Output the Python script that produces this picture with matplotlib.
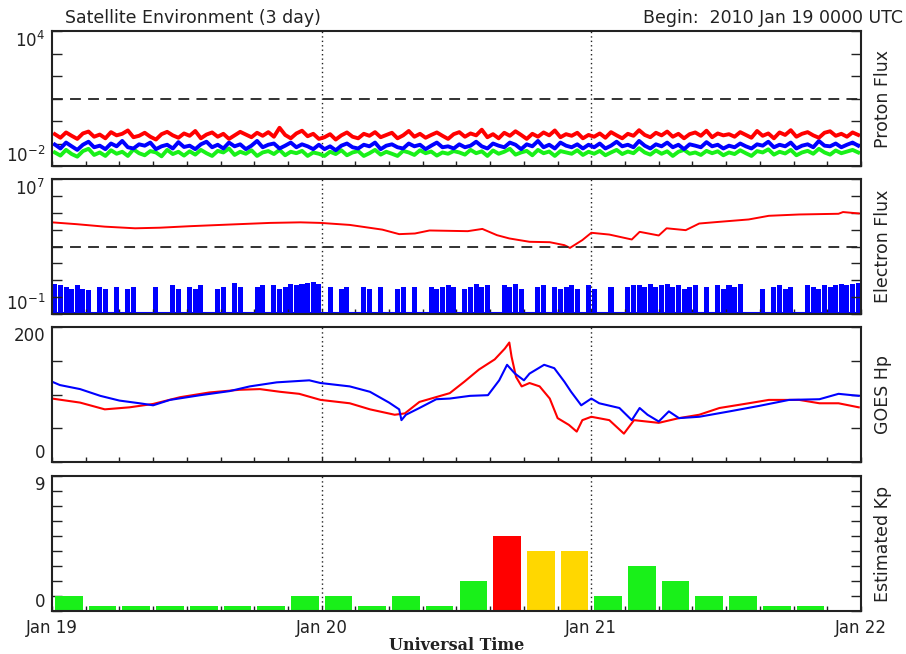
import numpy as np
import matplotlib
matplotlib.use("Agg")
import matplotlib.pyplot as plt
from matplotlib.ticker import MultipleLocator, NullLocator

RED = "#ff0000"
BLUE = "#0000ff"
GREEN = "#19f019"
YELLOW = "#ffd700"
INK = "#222222"

# proton flux (pfu), half-hour samples from 2010 Jan 19 00:00 UTC
proton_10mev = [
    0.26, 0.18, 0.31, 0.22, 0.16, 0.28, 0.34, 0.2, 0.25, 0.17, 0.32, 0.23, 0.27, 0.38, 0.19, 0.22, 0.3, 0.2, 0.15, 0.26, 0.33, 0.23, 0.18, 0.28,
    0.22, 0.36, 0.17, 0.25, 0.31, 0.2, 0.27, 0.16, 0.23, 0.33, 0.25, 0.19, 0.3, 0.22, 0.32, 0.2, 0.5, 0.24, 0.17, 0.28, 0.37, 0.21, 0.27, 0.16,
    0.19, 0.26, 0.15, 0.23, 0.31, 0.2, 0.17, 0.27, 0.22, 0.32, 0.19, 0.24, 0.3, 0.17, 0.23, 0.36, 0.2, 0.27, 0.18, 0.24, 0.31, 0.22, 0.16, 0.26,
    0.32, 0.2, 0.28, 0.23, 0.41, 0.19, 0.26, 0.17, 0.3, 0.22, 0.35, 0.24, 0.16, 0.27, 0.2, 0.31, 0.23, 0.38, 0.19, 0.26, 0.22, 0.3, 0.17, 0.24,
    0.2, 0.28, 0.18, 0.32, 0.23, 0.17, 0.27, 0.22, 0.39, 0.24, 0.19, 0.3, 0.23, 0.34, 0.2, 0.27, 0.17, 0.26, 0.31, 0.22, 0.37, 0.19, 0.28, 0.23,
    0.26, 0.2, 0.32, 0.24, 0.18, 0.36, 0.22, 0.28, 0.17, 0.31, 0.24, 0.39, 0.2, 0.27, 0.32, 0.23, 0.18, 0.3, 0.35, 0.22, 0.27, 0.2, 0.31, 0.24,
]
proton_50mev = [
    0.09, 0.06, 0.11, 0.075, 0.052, 0.088, 0.12, 0.068, 0.08, 0.056, 0.1, 0.075, 0.13, 0.068, 0.06, 0.092, 0.08, 0.11, 0.056, 0.075, 0.088, 0.06, 0.115, 0.07,
    0.08, 0.056, 0.092, 0.12, 0.068, 0.088, 0.06, 0.11, 0.075, 0.092, 0.056, 0.08, 0.13, 0.068, 0.088, 0.1, 0.06, 0.08, 0.11, 0.068, 0.092, 0.075, 0.056, 0.088,
    0.056, 0.075, 0.05, 0.08, 0.1, 0.068, 0.06, 0.088, 0.075, 0.11, 0.056, 0.08, 0.092, 0.068, 0.06, 0.1, 0.075, 0.088, 0.056, 0.08, 0.11, 0.068, 0.075, 0.06,
    0.092, 0.068, 0.08, 0.12, 0.075, 0.06, 0.1, 0.08, 0.068, 0.11, 0.088, 0.056, 0.092, 0.075, 0.13, 0.068, 0.088, 0.06, 0.11, 0.08, 0.068, 0.092, 0.06, 0.088,
    0.068, 0.1, 0.06, 0.08, 0.12, 0.075, 0.088, 0.068, 0.13, 0.08, 0.06, 0.092, 0.075, 0.11, 0.068, 0.088, 0.056, 0.092, 0.08, 0.068, 0.115, 0.075, 0.088, 0.06,
    0.08, 0.068, 0.1, 0.075, 0.06, 0.092, 0.08, 0.12, 0.068, 0.088, 0.075, 0.11, 0.06, 0.08, 0.092, 0.068, 0.13, 0.08, 0.075, 0.1, 0.068, 0.088, 0.11, 0.08,
]
proton_100mev = [
    0.04, 0.029, 0.052, 0.034, 0.026, 0.046, 0.058, 0.031, 0.04, 0.028, 0.05, 0.035, 0.043, 0.028, 0.055, 0.037, 0.03, 0.046, 0.04, 0.027, 0.052, 0.034, 0.043, 0.029,
    0.045, 0.032, 0.052, 0.037, 0.028, 0.047, 0.04, 0.06, 0.031, 0.043, 0.035, 0.05, 0.028, 0.04, 0.046, 0.034, 0.052, 0.03, 0.043, 0.037, 0.047, 0.028, 0.04, 0.035,
    0.028, 0.043, 0.034, 0.05, 0.03, 0.04, 0.046, 0.028, 0.037, 0.052, 0.032, 0.043, 0.035, 0.028, 0.047, 0.04, 0.031, 0.05, 0.037, 0.044, 0.029, 0.04, 0.035, 0.046,
    0.04, 0.032, 0.052, 0.037, 0.045, 0.028, 0.049, 0.035, 0.043, 0.058, 0.032, 0.04, 0.047, 0.03, 0.052, 0.037, 0.044, 0.028, 0.046, 0.04, 0.035, 0.05, 0.031, 0.043,
    0.035, 0.047, 0.03, 0.04, 0.052, 0.034, 0.044, 0.037, 0.062, 0.04, 0.032, 0.049, 0.035, 0.045, 0.028, 0.043, 0.052, 0.035, 0.04, 0.031, 0.047, 0.037, 0.045, 0.03,
    0.04, 0.034, 0.05, 0.037, 0.028, 0.046, 0.04, 0.055, 0.032, 0.043, 0.036, 0.052, 0.03, 0.04, 0.047, 0.035, 0.058, 0.04, 0.032, 0.049, 0.037, 0.044, 0.052, 0.04,
]

# >2 MeV electron flux, primary satellite (hours since start, pfu)
electron_hours = [0, 2.2, 4.7, 7.4, 9.6, 12.3, 15.8, 19.4, 22.1, 23.9, 26.5, 29.4, 30.9, 32.3, 33.6,
                  37.0, 38.3, 39.6, 40.7, 42.5, 44.3, 45.6, 46.1, 47.2, 48.0, 49.6, 51.6, 52.3,
                  54.0, 54.7, 56.4, 57.6, 59.4, 62.0, 63.8, 66.5, 70.0, 70.4, 71.8]
electron_flux = [2.7e4, 2.1e4, 1.5e4, 1.2e4, 1.3e4, 1.6e4, 2.0e4, 2.5e4, 2.7e4, 2.5e4, 1.9e4, 1.0e4, 5.4e3, 5.9e3, 8.9e3,
                 8.1e3, 1.1e4, 4.7e3, 3.0e3, 1.9e3, 1.8e3, 1.2e3, 8.3e2, 2.4e3, 6.5e3, 5.1e3, 2.6e3, 7.4e3,
                 4.5e3, 1.2e4, 9.3e3, 2.3e4, 2.9e4, 4.0e4, 6.6e4, 7.9e4, 8.7e4, 1.1e5, 9.1e4]

# >2 MeV electron flux, secondary satellite, half-hour samples (0.1 = floor)
electron_flux_b = [
    6, 5, 4, 3, 5, 3, 2.5, 0.1, 4, 3, 0.1, 4, 0.1, 3, 4, 0.1, 0.1, 0.1, 4, 0.1, 0.1, 5, 3, 0.1,
    4, 3, 5, 0.1, 0.1, 3, 4, 0.1, 7, 4, 0.1, 0.1, 4, 5, 0.1, 5, 3, 4, 6, 5, 6, 7, 8, 6,
    0.1, 4, 0.1, 3, 4, 0.1, 0.1, 4, 3, 0.1, 4, 0.1, 0.1, 3, 4, 0.1, 4, 0.1, 0.1, 4, 3, 4, 5, 4,
    0.1, 3, 4, 6, 4, 5, 0.1, 0.1, 5, 4, 6, 3, 0.1, 0.1, 4, 5, 0.1, 4, 3, 4, 5, 3, 0.1, 5,
    3, 0.1, 0.1, 4, 0.1, 0.1, 4, 5, 5, 4, 6, 4, 5, 6, 4, 5, 3, 4, 5, 0.1, 4, 0.1, 5, 3,
    5, 4, 6, 0.1, 0.1, 0.1, 3, 0.1, 4, 5, 3, 4, 0.1, 0.1, 5, 4, 3, 5, 4, 5, 6, 5, 6, 7,
]

# GOES Hp magnetometer (hours since start, nT)
hp_a_hours = [0, 0.7, 2.5, 4.3, 6.0, 7.8, 9.0, 10.5, 13.2, 15.8, 17.6, 20.0, 22.9, 23.9, 26.5, 28.3,
              30.0, 30.9, 31.1, 31.5, 32.7, 34.2, 35.4, 37.2, 38.8, 39.8, 40.5, 41.2, 42.0, 42.5,
              43.8, 44.7, 45.6, 46.2, 47.1, 48.0, 48.7, 50.5, 51.6, 52.3, 53.0, 54.0, 54.9, 55.8,
              57.6, 60.3, 62.9, 65.6, 68.3, 70.0, 71.8]
hp_a = [119, 114, 108, 98, 91, 87, 84, 92, 99, 105, 112, 118, 121, 117, 112, 104,
        88, 78, 62, 70, 80, 93, 94, 98, 99, 121, 144, 131, 121, 131,
        144, 139, 119, 104, 84, 94, 87, 80, 62, 80, 70, 60, 75, 65,
        67, 75, 83, 92, 93, 101, 98]
hp_b_hours = [0, 2.5, 4.7, 6.9, 9.0, 11.4, 14.0, 16.7, 18.5, 20.3, 22.0, 23.9, 26.5, 28.3, 30.5,
              31.4, 32.7, 35.4, 36.7, 38.0, 39.4, 40.3, 40.7, 40.9, 41.3, 41.8, 42.5, 43.4, 44.3,
              45.0, 46.0, 46.7, 47.2, 48.0, 49.6, 50.9, 51.8, 54.0, 55.8, 57.6, 59.4, 62.0,
              63.8, 66.5, 68.3, 70.0, 71.8]
hp_b = [94, 88, 78, 81, 86, 96, 103, 107, 108, 104, 101, 92, 87, 78, 70,
        72, 89, 102, 119, 137, 152, 168, 177, 156, 126, 112, 117, 112, 94,
        65, 55, 45, 62, 67, 62, 42, 62, 58, 65, 70, 80, 87,
        92, 92, 87, 87, 81]

# estimated planetary Kp, one value per 3-hour interval
kp = [1, 0.33, 0.33, 0.33, 0.33, 0.33, 0.33, 1,
      1, 0.33, 1, 0.33, 2, 5, 4, 4,
      1, 3, 2, 1, 1, 0.33, 0.33]

day_labels = ["Jan 19", "Jan 20", "Jan 21", "Jan 22"]


def kp_color(v):
    if v >= 5:
        return RED
    if v >= 4:
        return YELLOW
    return GREEN


def frame(ax, label, ticks, ticklabels):
    ax.set_xlim(0, 3)
    ax.xaxis.set_major_locator(MultipleLocator(0.125))
    ax.yaxis.set_minor_locator(NullLocator())
    ax.tick_params(axis="x", direction="in", length=3.5, width=1, labelbottom=False, colors=INK)
    ax.tick_params(axis="y", direction="in", length=7, width=1, left=True, right=True,
                   labelsize=12, pad=5, colors=INK)
    ax.set_yticks(ticks, ticklabels)
    labels = ax.get_yticklabels()
    labels[0].set_verticalalignment("bottom")
    labels[-1].set_verticalalignment("top")
    for s in ax.spines.values():
        s.set_linewidth(1.5)
        s.set_color(INK)
    for d in (1, 2):
        ax.axvline(d, color=INK, ls=(0, (1, 2.2)), lw=1, zorder=1)
    ax.yaxis.set_label_position("right")
    ax.set_ylabel(label, fontsize=12.5, labelpad=9, color=INK)


def plot():
    plt.rcParams["font.family"] = "DejaVu Sans"
    plt.rcParams["mathtext.fontset"] = "dejavusans"

    fig = plt.figure(figsize=(9.06, 6.54), dpi=100)
    left, width, height = 52 / 906, 809 / 906, 135 / 654
    ax_p = fig.add_axes([left, (654 - 166) / 654, width, height])
    ax_e = fig.add_axes([left, (654 - 314) / 654, width, height])
    ax_h = fig.add_axes([left, (654 - 462) / 654, width, height])
    ax_k = fig.add_axes([left, (654 - 611) / 654, width, height])

    half = (np.arange(144) + 0.5) / 48

    # proton flux
    ax_p.set_yscale("log")
    ax_p.set_ylim(1e-2, 1e4)
    ax_p.plot(half, proton_100mev, color=GREEN, lw=2.8)
    ax_p.plot(half, proton_50mev, color=BLUE, lw=2.8)
    ax_p.plot(half, proton_10mev, color=RED, lw=2.8)
    ax_p.axhline(10, color=INK, lw=1.3, ls=(0, (6, 4)))
    frame(ax_p, "Proton Flux", [10.0 ** k for k in range(-2, 5)],
          ["$10^{-2}$", "", "", "", "", "", "$10^{4}$"])

    # electron flux
    ax_e.set_yscale("log")
    ax_e.set_ylim(1e-1, 1e7)
    eb = np.array(electron_flux_b)
    ax_e.bar(half, eb - 0.1, bottom=0.1, width=0.9 / 48, color=BLUE, linewidth=0)
    ax_e.axhline(0.11, color=BLUE, lw=1.5)
    ax_e.plot(np.array(electron_hours) / 24, electron_flux, color=RED, lw=1.4)
    ax_e.axhline(1000, color=INK, lw=1.3, ls=(0, (6, 4)))
    frame(ax_e, "Electron Flux", [10.0 ** k for k in range(-1, 8)],
          ["$10^{-1}$", "", "", "", "", "", "", "", "$10^{7}$"])

    # GOES Hp
    ax_h.set_ylim(0, 200)
    ax_h.plot(np.array(hp_b_hours) / 24, hp_b, color=RED, lw=1.5)
    ax_h.plot(np.array(hp_a_hours) / 24, hp_a, color=BLUE, lw=1.5)
    frame(ax_h, "GOES Hp", [0, 50, 100, 150, 200], ["0", "", "", "", "200"])

    # estimated Kp
    ax_k.set_ylim(0, 9)
    kp_t = (np.arange(len(kp)) + 0.5) / 8
    ax_k.bar(kp_t, kp, width=0.82 / 8, color=[kp_color(v) for v in kp], linewidth=0, zorder=2)
    frame(ax_k, "Estimated Kp", list(range(10)), ["0"] + [""] * 8 + ["9"])
    xt = np.arange(0, 3.001, 0.125)
    ax_k.set_xticks(xt, [day_labels[int(round(t))] if abs(t - round(t)) < 1e-6 else "" for t in xt])
    ax_k.tick_params(axis="x", labelbottom=True, labelsize=12, pad=6)

    fig.text(65 / 906, (654 - 18) / 654, "Satellite Environment (3 day)", fontsize=12.5,
             va="center", ha="left", color=INK)
    fig.text(903 / 906, (654 - 18) / 654, "Begin:  2010 Jan 19 0000 UTC", fontsize=12.5,
             va="center", ha="right", color=INK)
    fig.text(457 / 906, (654 - 645) / 654, "Universal Time", fontsize=11.5, fontweight="bold",
             family="DejaVu Serif", va="center", ha="center", color=INK)

    fig.savefig("out.png", dpi=100)
    plt.close(fig)


if __name__ == "__main__":
    plot()
